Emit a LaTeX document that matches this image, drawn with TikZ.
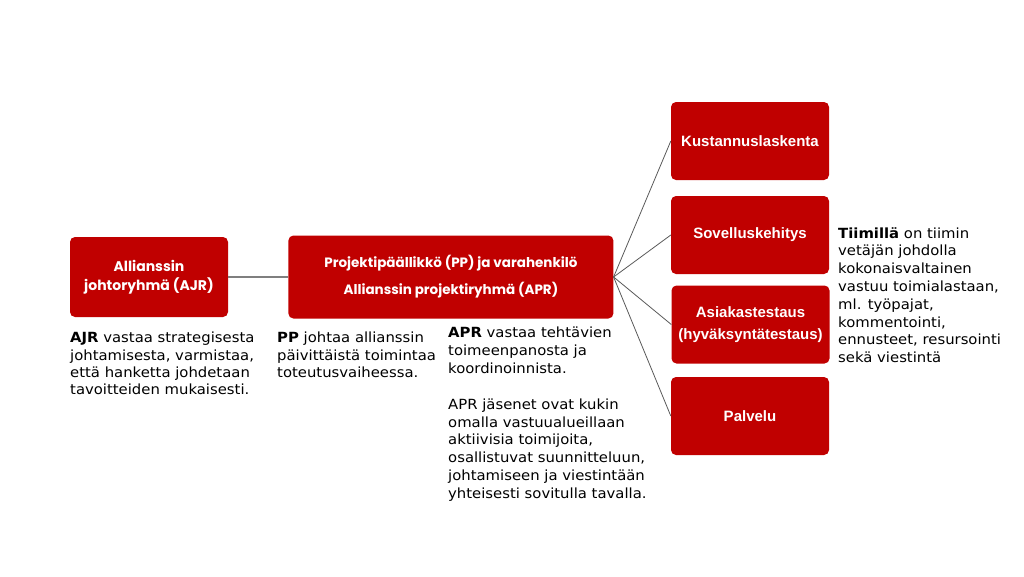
\documentclass[tikz,border=0pt]{standalone}
\usepackage{fontspec}
\setmainfont{DejaVu Sans}[FakeStretch=1.06]
\newfontfamily\boxfont{Liberation Sans}
\newfontfamily\gothfont{Poppins}
\usetikzlibrary{positioning}
\definecolor{alliancered}{RGB}{192,0,0}
\definecolor{linkgray}{RGB}{127,127,127}
\definecolor{fangray}{RGB}{89,89,89}
\tikzset{
  redbox/.style={fill=alliancered, rounded corners=5pt, text=white, align=center, minimum width=158pt, minimum height=78pt, inner sep=2pt},
  leadbox/.style={redbox, font=\gothfont\bfseries\fontsize{14}{19}\selectfont},
  teambox/.style={redbox, font=\boxfont\bfseries\fontsize{15}{22}\selectfont},
  notetext/.style={anchor=north west, align=left, inner sep=0pt, font=\fontsize{14}{17.8}\selectfont},
  link/.style={draw=linkgray, line width=1.3pt},
  fanline/.style={draw=fangray, line width=0.8pt}
}

\begin{document}
\begin{tikzpicture}[x=1pt, y=-1pt]
  \useasboundingbox (0,0) rectangle (1024,576);

  % leadership
  \node[leadbox, minimum height=80pt] (ajr) at (149,277) {Allianssin\\johtoryhmä (AJR)};
  \node[leadbox, minimum width=325pt, minimum height=83pt, right=60pt of ajr,
        font=\gothfont\bfseries\fontsize{13.5}{27}\selectfont] (pp) {Projektipäällikkö (PP) ja varahenkilö\\Allianssin projektiryhmä (APR)};
  \draw[link] (ajr) -- (pp);

  % teams
  \node[teambox] (kust) at (750,141) {Kustannuslaskenta};
  \node[teambox] (sov) at (750,235) {Sovelluskehitys};
  \node[teambox] (asia) at (750.5,324.5) {Asiakastestaus\\(hyväksyntätestaus)};
  \node[teambox] (palv) at (750,416) {Palvelu};
  \foreach \t in {kust,sov,asia,palv}
    \draw[fanline] (pp.east) -- (\t.west);

  % notes
  \node[notetext, font=\fontsize{14}{17.2}\selectfont] (ajrnote) at (70,332) {\textbf{AJR} vastaa strategisesta\\johtamisesta, varmistaa,\\että hanketta johdetaan\\tavoitteiden mukaisesti.};
  \node[notetext, font=\fontsize{14}{17.2}\selectfont] (ppnote) at (277,332) {\textbf{PP} johtaa allianssin\\päivittäistä toimintaa\\toteutusvaiheessa.};
  \node[notetext] (aprnote) at (448,327) {\textbf{APR} vastaa tehtävien\\toimeenpanosta ja\\koordinoinnista.\\[18pt]APR jäsenet ovat kukin\\omalla vastuualueillaan\\aktiivisia toimijoita,\\osallistuvat suunnitteluun,\\johtamiseen ja viestintään\\yhteisesti sovitulla tavalla.};
  \node[notetext] (teamnote) at (838,227) {\textbf{Tiimillä} on tiimin\\vetäjän johdolla\\kokonaisvaltainen\\vastuu toimialastaan,\\ml. työpajat,\\kommentointi,\\ennusteet, resursointi\\sekä viestintä};
\end{tikzpicture}
\end{document}
